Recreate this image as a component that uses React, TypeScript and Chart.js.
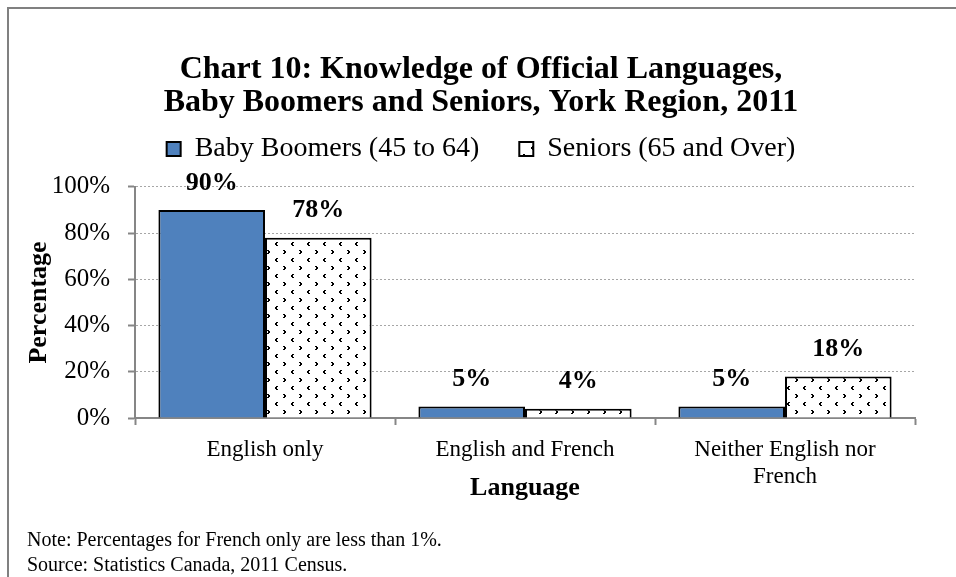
import React, { useEffect, useRef } from 'react';
import { Chart, registerables, layouts } from 'chart.js';

Chart.register(...registerables);

const categories: (string | string[])[] = ['English only', 'English and French', ['Neither English nor', 'French']];
const boomers = [90, 5, 5];
const seniors = [78, 4, 18];
const seriesNames = ['Baby Boomers (45 to 64)', 'Seniors (65 and Over)'];
const titleLines = ['Chart 10: Knowledge of Official Languages,', 'Baby Boomers and Seniors, York Region, 2011'];
const notes = ['Note: Percentages for French only are less than 1%.', 'Source: Statistics Canada, 2011 Census.'];
const yTitle = 'Percentage';
const xTitle = 'Language';

const SERIF = '"Liberation Serif", "Times New Roman", serif';

function makePattern(): CanvasPattern | string {
  const c = document.createElement('canvas');
  c.width = 16;
  c.height = 16;
  const g = c.getContext('2d');
  if (!g) return '#fff';
  g.fillStyle = '#ffffff';
  g.fillRect(0, 0, 16, 16);
  g.fillStyle = '#000000';
  // "<" mark
  const lx = 3, ly = 2;
  g.fillRect(lx + 1, ly, 2, 1);
  g.fillRect(lx, ly + 1, 2, 1);
  g.fillRect(lx, ly + 2, 2, 1);
  g.fillRect(lx + 1, ly + 3, 2, 1);
  // ">" mark
  const rx = 11, ry = 10;
  g.fillRect(rx, ry, 2, 1);
  g.fillRect(rx + 1, ry + 1, 2, 1);
  g.fillRect(rx + 1, ry + 2, 2, 1);
  g.fillRect(rx, ry + 3, 2, 1);
  const p = g.createPattern(c, 'repeat');
  return p || '#fff';
}

const spacerPlugin = {
  id: 'spacerBoxes',
  beforeInit(chart: any) {
    const topBox: any = {
      position: 'top', weight: 0, fullSize: false, options: {},
      width: 0, height: 0, top: 0, left: 0, right: 0, bottom: 0,
      update(maxWidth: number) { topBox.width = maxWidth; topBox.height = 14; },
      isHorizontal() { return true; },
      draw() {},
    };
    const rightBox: any = {
      position: 'right', weight: 0, fullSize: false, options: {},
      width: 0, height: 0, top: 0, left: 0, right: 0, bottom: 0,
      update(_w: number, maxHeight: number) { rightBox.width = 37; rightBox.height = maxHeight; },
      isHorizontal() { return false; },
      draw() {},
    };
    layouts.addBox(chart, topBox);
    layouts.addBox(chart, rightBox);
  },
};

const dataLabelPlugin = {
  id: 'dataLabels',
  afterDatasetsDraw(chart: any) {
    const ctx = chart.ctx;
    ctx.save();
    ctx.font = `bold 26px ${SERIF}`;
    ctx.fillStyle = '#000';
    ctx.textAlign = 'center';
    ctx.textBaseline = 'middle';
    chart.data.datasets.forEach((ds: any, di: number) => {
      const meta = chart.getDatasetMeta(di);
      meta.data.forEach((el: any, i: number) => {
        ctx.fillText(`${ds.data[i]}%`, el.x, el.y - 27);
      });
    });
    ctx.restore();
  },
};

const framePlugin = {
  id: 'frameNotes',
  afterDraw(chart: any) {
    const ctx = chart.ctx;
    ctx.save();
    ctx.strokeStyle = '#808080';
    ctx.lineWidth = 2;
    ctx.strokeRect(8, 8, 3000, 3000);
    ctx.font = `20px ${SERIF}`;
    ctx.fillStyle = '#000';
    ctx.textAlign = 'left';
    ctx.textBaseline = 'middle';
    ctx.fillText(notes[0], 27, 541);
    ctx.fillText(notes[1], 27, 566);
    ctx.restore();
  },
};

export default function App() {
  const ref = useRef<HTMLCanvasElement | null>(null);

  useEffect(() => {
    const canvas = ref.current;
    if (!canvas) return;
    const pattern = makePattern();
    const chart = new Chart(canvas, {
      type: 'bar',
      data: {
        labels: categories as any,
        datasets: [
          {
            label: seriesNames[0],
            data: boomers,
            backgroundColor: '#4F81BD',
            borderColor: '#000000',
            borderWidth: 2,
            categoryPercentage: 0.82,
            barPercentage: 1.0,
          },
          {
            label: seriesNames[1],
            data: seniors,
            backgroundColor: pattern as any,
            borderColor: '#000000',
            borderWidth: 2,
            categoryPercentage: 0.82,
            barPercentage: 1.0,
          },
        ],
      },
      options: {
        responsive: false,
        animation: false,
        devicePixelRatio: 1,
        layout: { padding: { left: 10, right: 4, top: 10, bottom: 73 } },
        plugins: {
          title: {
            display: true,
            text: titleLines,
            color: '#000',
            font: { family: SERIF, size: 32, weight: 'bold', lineHeight: 1.03 },
            padding: { top: 43.5, bottom: -24.5 },
          },
          legend: {
            display: true,
            position: 'top',
            labels: {
              color: '#000',
              font: { family: SERIF, size: 28 },
              boxWidth: 14,
              boxHeight: 14,
              padding: 40,
            },
          },
          tooltip: { enabled: false },
        },
        scales: {
          x: {
            grid: {
              display: true,
              drawOnChartArea: false,
              drawTicks: true,
              tickLength: 7,
              tickColor: '#868686',
              tickWidth: 2,
              color: '#868686',
              offset: true,
            },
            border: { display: true, color: '#868686', width: 2 },
            ticks: {
              color: '#000',
              padding: 11,
              font: { family: SERIF, size: 23, lineHeight: 1.2 },
              maxRotation: 0,
              autoSkip: false,
            },
            title: {
              display: true,
              text: xTitle,
              color: '#000',
              font: { family: SERIF, size: 26, weight: 'bold', lineHeight: 1.2 },
              padding: { top: 0, bottom: 0 },
            },
            afterFit(scale: any) { scale.height = 86; },
          },
          y: {
            min: 0,
            max: 100,
            ticks: {
              stepSize: 20,
              color: '#000',
              padding: 18,
              font: { family: SERIF, size: 25 },
              callback: (v: any) => `${v}%`,
            },
            grid: {
              color: (c: any) => (c.tick && c.tick.value === 0 ? 'rgba(0,0,0,0)' : '#a6a6a6'),
              lineWidth: 1,
              tickLength: 7,
              tickColor: '#868686',
              tickWidth: 2,
              tickBorderDash: [],
            },
            border: { display: true, color: '#868686', width: 2, dash: [2, 2] },
            title: {
              display: true,
              text: yTitle,
              color: '#000',
              font: { family: SERIF, size: 26, weight: 'bold', lineHeight: 1.2 },
              padding: { top: 14, bottom: 0 },
            },
            afterFit(scale: any) { scale.width = 125; },
          },
        },
      },
      plugins: [spacerPlugin, dataLabelPlugin, framePlugin],
    } as any);
    return () => chart.destroy();
  }, []);

  return (
    <div style={{ position: 'absolute', left: 0, top: 0, width: 956, height: 577, background: '#fff' }}>
      <canvas ref={ref} width={956} height={577} style={{ display: 'block', width: 956, height: 577 }} />
    </div>
  );
}
